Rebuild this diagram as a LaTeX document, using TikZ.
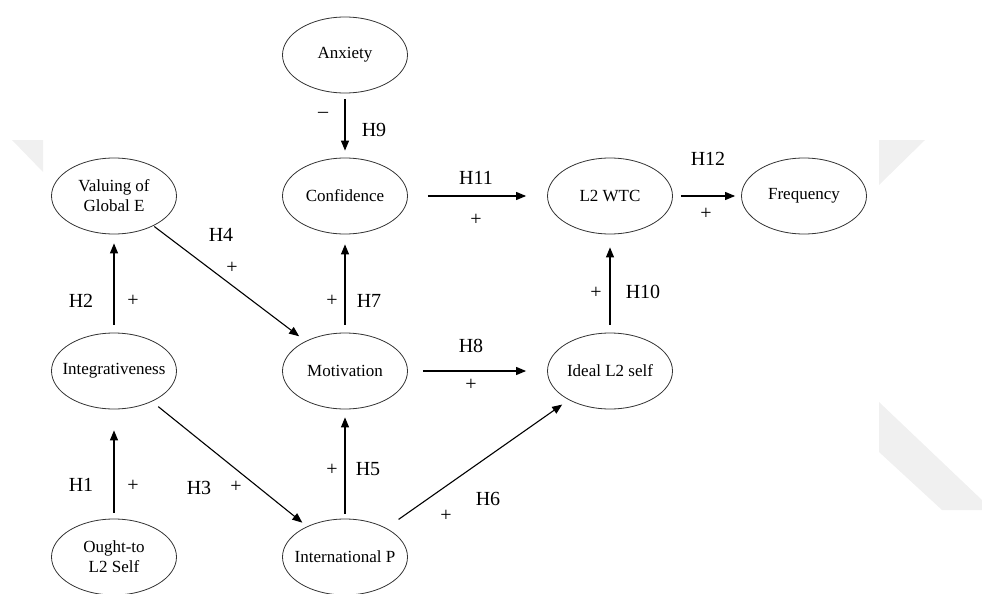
\documentclass[tikz,border=0pt]{standalone}
\usepackage{fontspec}
\setmainfont{Liberation Serif}
\usetikzlibrary{shapes.geometric,arrows.meta}

\begin{document}
\begin{tikzpicture}[x=1pt, y=-1pt,
  construct/.style={ellipse, draw=black!80, line width=0.8pt,
    minimum width=125pt, minimum height=76pt, inner xsep=-14pt, inner ysep=0pt,
    align=center, font=\fontsize{17}{20}\selectfont},
  hyp/.style={-{Triangle[length=10pt, width=8pt]}, line width=1.1pt},
  lbl/.style={font=\fontsize{20}{24}\selectfont, inner sep=0pt}]

  % Fix the page size
  \useasboundingbox (0,0) rectangle (982,594);

  % Faint watermark shapes
  \fill[black!6] (12,140) -- (43,140) -- (43,172) -- cycle;
  \fill[black!6] (879,140) -- (925,140) -- (879,185) -- cycle;
  \fill[black!6] (879,402) -- (982,500) -- (982,510) -- (942,510) -- (879,452) -- cycle;

  % Define columns and rows
  \def\ca{114} \def\cb{345} \def\cc{610} \def\cd{804}
  \def\ra{55}  \def\rb{196} \def\rc{371} \def\rd{557}

  % Constructs
  \node[construct] (anx)   at (\cb,\ra) {Anxiety};
  \node[construct] (val)   at (\ca,\rb) {Valuing of\\Global E};
  \node[construct] (conf)  at (\cb,\rb) {Confidence};
  \node[construct] (wtc)   at (\cc,\rb) {L2 WTC};
  \node[construct] (freq)  at (\cd,\rb) {Frequency};
  \node[construct] (integ) at (\ca,\rc) {Integrativeness};
  \node[construct] (mot)   at (\cb,\rc) {Motivation};
  \node[construct] (ideal) at (\cc,\rc) {Ideal L2 self};
  \node[construct] (ought) at (\ca,\rd) {Ought-to\\L2 Self};
  \node[construct] (intp)  at (\cb,\rd) {International P};

  % Hypothesised paths
  \draw[hyp, shorten <=6pt,  shorten >=7pt]  (anx) -- (conf);
  \draw[hyp, shorten <=20pt, shorten >=21pt] (conf) -- (wtc);
  \draw[hyp, shorten <=8pt,  shorten >=6pt]  (wtc) -- (freq);
  \draw[hyp, shorten <=8pt,  shorten >=13pt] (ideal) -- (wtc);
  \draw[hyp, shorten <=15pt, shorten >=21pt] (mot) -- (ideal);
  \draw[hyp, shorten <=8pt,  shorten >=10pt] (mot) -- (conf);
  \draw[hyp, shorten <=5pt,  shorten >=8pt]  (intp) -- (mot);
  \draw[hyp, shorten <=15pt, shorten >=8pt]  (intp) -- (ideal);
  \draw[hyp, shorten <=1pt,  shorten >=8pt]  (val) -- (mot);
  \draw[hyp, shorten <=8pt,  shorten >=9pt]  (integ) -- (val);
  \draw[hyp, shorten <=8pt,  shorten >=6pt]  (integ) -- (intp);
  \draw[hyp, shorten <=6pt,  shorten >=21pt] (ought) -- (integ);

  % Hypothesis labels and signs
  \foreach \nm/\x/\y/\t in {h9/374/130/H9, h11/476/178/H11, h12/708/159/H12,
      h10/643/292/H10, h8/471/346/H8, h7/369/301/H7, h4/221/235/H4,
      h2/81/301/H2, h5/368/469/H5, h1/81/485/H1, h3/199/488/H3, h6/488/499/H6,
      p11/476/220/+, p12/706/214/+, p10/596/293/+, p8/471/385/+, p7/332/301/+,
      p4/232/268/+, p2/133/301/+, p5/332/470/+, p1/133/486/+, p3/236/487/+,
      p6/446/516/+} {
    \node[lbl] (\nm) at (\x,\y) {\t};
  }
  \node[lbl] (m9) at (323,115) {–};

\end{tikzpicture}
\end{document}
